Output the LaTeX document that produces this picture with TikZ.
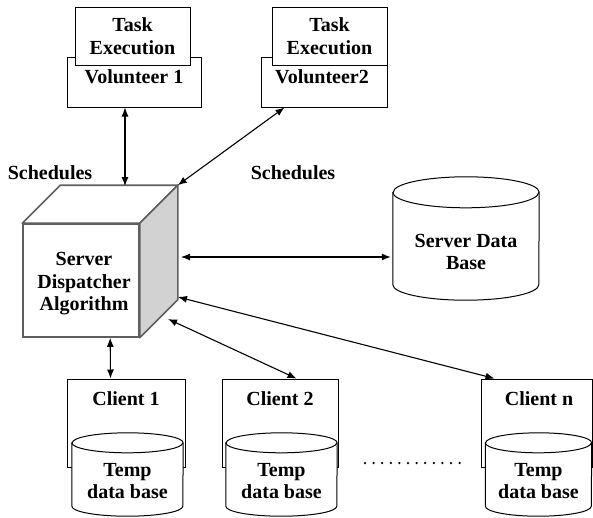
\documentclass[tikz,border=0pt]{standalone}
\usepackage{fontspec}
\setmainfont{Liberation Serif}
\usetikzlibrary{calc,arrows.meta}
\tikzset{>={Latex[length=9pt,width=7pt]}}
\definecolor{cubegray}{RGB}{210,210,210}
\definecolor{cubeline}{RGB}{95,95,95}
\tikzset{
  lbl/.style={align=center,inner sep=0pt},
  volbox/.style={draw,line width=1pt,minimum width=#1,minimum height=50pt,inner sep=0pt},
  taskbox/.style={draw,fill=white,line width=1pt,align=center,minimum width=115pt,minimum height=58pt,inner sep=0pt},
  clientbox/.style={draw,line width=1pt,minimum width=#1,minimum height=88pt,inner sep=0pt},
  dbbox/.style args={#1/#2}{minimum width=#1,minimum height=#2,inner sep=0pt},
  dbline/.style={draw,fill=white,line width=1pt},
  srvface/.style={draw=cubeline,fill=white,line width=1.6pt,minimum width=116pt,minimum height=113pt,inner sep=0pt},
  cubeedge/.style={draw=cubeline,line width=1.6pt,line join=round},
  link/.style={<->,line width=1.1pt},
  dotline/.style={line width=2.5pt,line cap=round,dash pattern=on 0pt off 8.6pt}
}
\begin{document}
\begin{tikzpicture}[x=1pt,y=-1pt,font=\bfseries\fontsize{20}{22.5}\selectfont]
  \useasboundingbox (0,0) rectangle (593,517);
  \def\d{38} % depth of the cube

  % help functions
        % cylinder round a node: node, half width, ellipse radius
  \def\dbShape(#1,#2,#3){
    \draw[dbline] ($(#1.north west)+(0,#3)$) -- ($(#1.south west)+(0,-#3)$)
      arc[start angle=180,end angle=360,x radius=#2pt,y radius=#3pt]
      -- ($(#1.north east)+(0,#3)$)
      arc[start angle=0,end angle=180,x radius=#2pt,y radius=#3pt] -- cycle;
    \draw[line width=1pt] ($(#1.north west)+(0,#3)$)
      arc[start angle=180,end angle=360,x radius=#2pt,y radius=#3pt];}

  % volunteers
  \node[volbox=134] (vol1) at (134,82) {};
  \node[lbl] (vol1t) at (134,77) {Volunteer 1};
  \node[taskbox] (task1) at (132.5,36) {Task\\Execution};
  \node[volbox=126] (vol2) at (324,82) {};
  \node[lbl] (vol2t) at (322,77) {Volunteer2};
  \node[taskbox] (task2) at (329.5,36) {Task\\Execution};

  \node[lbl] (sch1) at (50,173) {Schedules};
  \node[lbl] (sch2) at (293,173) {Schedules};

  % server cube
  \node[srvface] (srv) at (81,280.5) {};
  \coordinate (srvback) at ($(srv.north east)+(\d,-\d)$);
  \draw[cubeedge,fill=white] (srv.north west) -- ++(\d,-\d) -- (srvback) -- (srv.north east) -- cycle;
  \draw[cubeedge,fill=cubegray] (srv.north east) -- (srvback) -- ($(srv.south east)+(\d,-\d)$) -- (srv.south east) -- cycle;
  \node[lbl] (srvt) at (84,284) {Server\\Dispatcher\\Algorithm};

  % server data base
  \node[dbbox=146/123] (sdb) at (466,238.5) {};
  \dbShape(sdb,73,15.5)
  \node[lbl] (sdbt) at (466,252) {Server Data\\Base};

  % clients
  \node[clientbox=118] (c1) at (126,423) {};
  \node[lbl] (c1t) at (126,399) {Client 1};
  \node[dbbox=111/83] (db1) at (127.5,474.5) {};
  \dbShape(db1,55.5,10)
  \node[lbl] (db1t) at (127.5,481) {Temp\\data base};

  \node[clientbox=116] (c2) at (280,423) {};
  \node[lbl] (c2t) at (280,399) {Client 2};
  \node[dbbox=111/83] (db2) at (281.5,474.5) {};
  \dbShape(db2,55.5,10)
  \node[lbl] (db2t) at (281.5,481) {Temp\\data base};

  \node[clientbox=111] (cn) at (536.5,423) {};
  \node[lbl] (cnt) at (539,399) {Client n};
  \node[dbbox=106/83] (dbn) at (538.5,474.5) {};
  \dbShape(dbn,53,10)
  \node[lbl] (dbnt) at (538.5,481) {Temp\\data base};

  \draw[dotline] (365,463) -- (463,463);

  % links
  \coordinate (cubetop) at (125,186);
  \draw[link] (vol1.south -| cubetop) -- (cubetop);
  \draw[link] ($(vol2.south west)+(24,0)$) -- (srvback);
  \coordinate (srvR) at (181,257);
  \draw[link] (srvR) -- ($(srvR -| sdb.west)+(-2,0)$);
  \draw[link] ($(srv.south west)+(88,0)$) -- ($(c1.north west)+(44,0)$);
  \coordinate (srvB) at (168,319);
  \draw[link] (srvB) -- ($(c2.north west)+(75,0)$);
  \coordinate (srvC) at (178,297);
  \draw[link] (srvC) -- ($(cn.north west)+(14,0)$);
\end{tikzpicture}
\end{document}
